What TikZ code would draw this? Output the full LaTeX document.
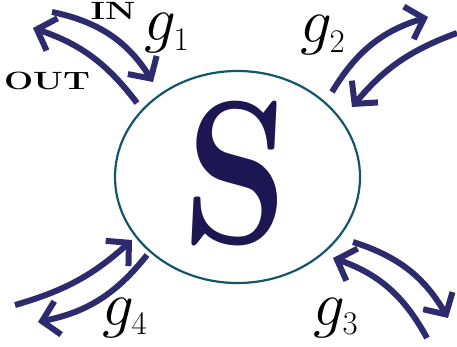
\RequirePackage{fix-cm}
\documentclass[tikz,border=0pt]{standalone}
\usepackage{amsmath}
\usepackage{xcolor}
\usepackage{tikz}
\usetikzlibrary{arrows.meta,shapes.geometric}
\definecolor{azul}{RGB}{45,42,110}
\definecolor{marino}{RGB}{28,22,82}
\definecolor{turquesa}{RGB}{20,85,105}
\DeclareMathSizes{63}{63}{33}{25}
\tikzset{flecha/.style={draw=azul,line width=6pt,-{Straight Barb[length=16pt,width=34pt]}},
  etiqueta/.style={anchor=base west,inner sep=0pt,font=\fontsize{63}{63}\selectfont},
  sentido/.style={inner sep=0pt,xscale=1.38,font=\fontsize{25}{25}\selectfont\bfseries}}

\begin{document}
\begin{tikzpicture}[x=1pt,y=-1pt]
\useasboundingbox (0,0) rectangle (457,347);
% sistema
\node[draw=turquesa,line width=2.2pt,ellipse,minimum width=245pt,minimum height=212pt,inner sep=0pt] (sis) at (237.5,177) {};
\node[text=marino,inner sep=0pt,xscale=0.82,xslant=0.06,font=\fontsize{204}{204}\selectfont\bfseries] (letra) at (237.5,174) {S};
% extremos de las flechas
\coordinate (e1a) at (52,12);   \coordinate (e1b) at (153,82);
\coordinate (s1a) at (137,103); \coordinate (s1b) at (33,28);
\coordinate (s2a) at (332,92);  \coordinate (s2b) at (428,17);
\coordinate (e2a) at (457,33);  \coordinate (e2b) at (352,107);
\coordinate (s3a) at (353,242); \coordinate (s3b) at (448,318);
\coordinate (e3a) at (427,338); \coordinate (e3b) at (333,258);
\coordinate (e4a) at (15,305);  \coordinate (e4b) at (132,240);
\coordinate (s4a) at (147,255); \coordinate (s4b) at (38,322);
\draw[flecha] (e1a) to[bend left=23] (e1b);
\draw[flecha] (s1a) to[bend right=17] (s1b);
\draw[flecha] (s2a) to[bend left=21] (s2b);
\draw[flecha] (e2a) to[bend right=15] (e2b);
\draw[flecha] (s3a) to[bend left=21] (s3b);
\draw[flecha] (e3a) to[bend right=21] (e3b);
\draw[flecha] (e4a) to[bend right=13] (e4b);
\draw[flecha] (s4a) to[bend left=20] (s4b);
% etiquetas
\node[etiqueta] (g1) at (144,41) {$g_1$};
\node[etiqueta] (g2) at (300,43) {$g_2$};
\node[etiqueta] (g3) at (313,325) {$g_3$};
\node[etiqueta] (g4) at (102,325) {$g_4$};
\node[sentido] (in) at (113,11) {IN};
\node[sentido] (out) at (47,81) {OUT};
\end{tikzpicture}
\end{document}
